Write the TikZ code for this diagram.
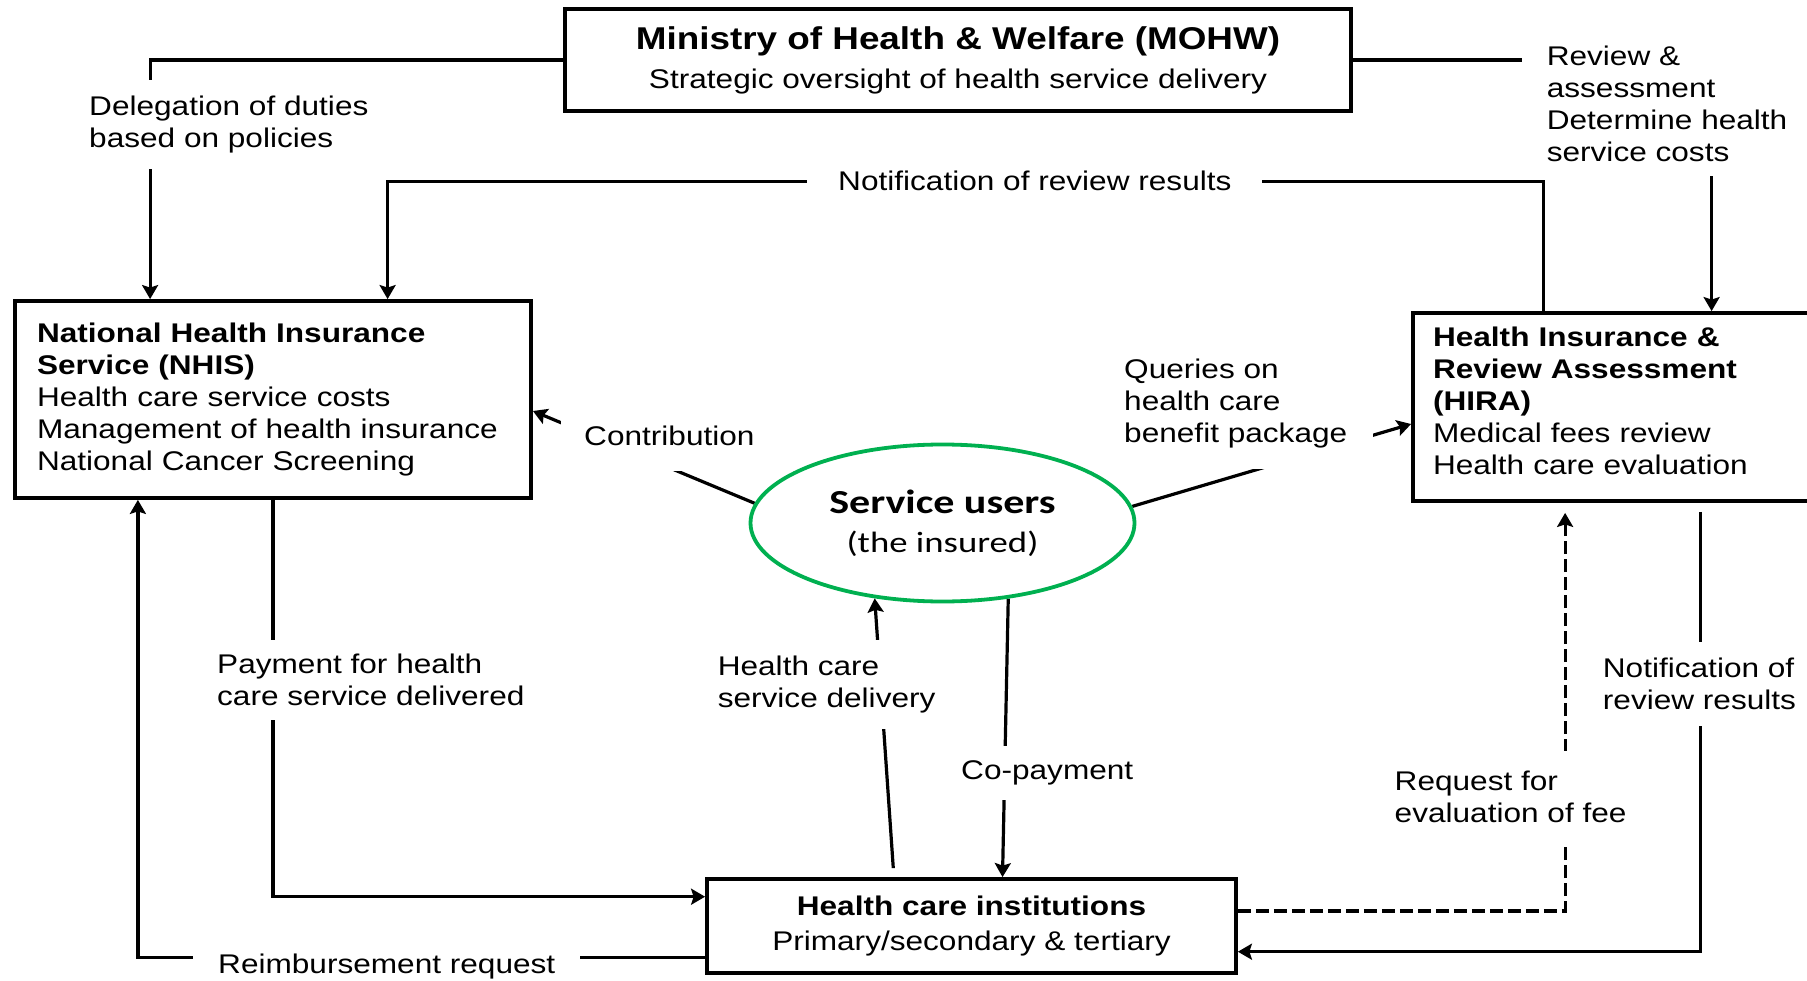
\documentclass[tikz,border=0pt]{standalone}
\usepackage{fontspec}
\setmainfont{Liberation Sans}[FakeStretch=1.17]
\newfontfamily\userfont{Carlito}[FakeStretch=1.25]
\usetikzlibrary{arrows.meta, shapes.geometric}
\definecolor{usergreen}{RGB}{0,176,80}
\pgfdeclarelayer{background}
\pgfsetlayers{background,main}

\begin{document}
\begin{tikzpicture}[
            x = 1pt, y = -1pt, % pixel grid, y runs downwards
            > = {Stealth[length=14pt, width=16pt, inset=2.5pt]}, % arrow head style
            font = \fontsize{27}{32}\selectfont,
            flow/.style = {line width=3.2pt, ->}, % connector style
            box/.style = {draw=black, line width=3.8pt, rectangle, inner sep=0pt},
            lbl/.style = {fill=white, align=left, anchor=north west,
                inner xsep=10pt, inner ysep=16pt}
        ]

        \useasboundingbox (0,0) rectangle (1807,981);

        % labels on the connectors
        \node[lbl] (dlg) at (79,79.7) {Delegation of duties\\based on policies};
        \node[lbl, inner xsep=25pt, inner ysep=14pt] (rev) at (1521.6,31.7) {Review \&\\assessment\\Determine health\\service costs};
        \node[lbl, inner xsep=31pt, inner ysep=8pt] (ntop) at (807,162.7) {Notification of review results};
        \node[lbl, inner xsep=23pt, inner ysep=25pt] (con) at (561,400.7) {Contribution};
        \node[lbl, inner xsep=26pt, inner ysep=21pt] (qry) at (1098,337.7) {Queries on\\health care\\benefit package};
        \node[lbl] (hcd) at (707.6,639.7) {Health care\\service delivery};
        \node[lbl, inner ysep=14pt] (pay) at (207,639.7) {Payment for health\\care service delivered};
        \node[lbl, inner ysep=15pt] (cop) at (951,745.7) {Co-payment};
        \node[lbl, inner ysep=20pt] (req) at (1384.5,750.7) {Request for\\evaluation of fee};
        \node[lbl] (nrt) at (1592.7,641.7) {Notification of\\review results};
        \node[lbl, inner xsep=25pt, inner ysep=6pt] (rmb) at (193,947.7) {Reimbursement request};

        % organisations
        \node[box, minimum width=786pt, minimum height=102pt, align=center,
            font=\fontsize{27}{39}\selectfont] (mohw) at (958,60)
            {{\fontsize{31.5}{39}\selectfont\bfseries Ministry of Health \& Welfare (MOHW)}\\Strategic oversight of health service delivery};
        \node[box, minimum width=516pt, minimum height=197pt, text width=472pt, align=left] (nhis) at (273,399.5)
            {\textbf{National Health Insurance}\\\textbf{Service (NHIS)}\\Health care service costs\\Management of health insurance\\National Cancer Screening};
        \node[box, minimum width=397pt, minimum height=188pt, text width=357pt, align=left] (hira) at (1611.5,407)
            {\textbf{Health Insurance \&}\\\textbf{Review Assessment}\\\textbf{(HIRA)}\\Medical fees review\\Health care evaluation\rule[-12pt]{0pt}{12pt}};
        \node[box, minimum width=529pt, minimum height=94pt, align=center,
            font=\fontsize{27}{34.4}\selectfont] (hci) at (971.5,926)
            {\textbf{Health care institutions}\\Primary/secondary \& tertiary};
        \node[ellipse, draw=usergreen, line width=3.8pt, inner sep=0pt, minimum width=384pt, minimum height=157pt,
            align=center, font=\userfont\fontsize{29.4}{38.7}\selectfont] (users) at (942.5,523)
            {{\fontsize{33.6}{38.7}\selectfont\bfseries Service users}\\(the insured)};

        % connectors
        \begin{pgfonlayer}{background}
            \draw[flow] (mohw.west) -| ([xshift=137pt]nhis.north west);
            \draw[flow] (mohw.east) -| ([xshift=300.5pt]hira.north west);
            \draw[flow] ([xshift=132pt]hira.north west) -- ++(0,-129.3) -| ([xshift=374.5pt]nhis.north west);
            \draw[flow] (users.174) -- ([yshift=-11.5pt]nhis.east);
            \draw[flow] (users.5) -- ([yshift=-17pt]hira.west);
            \draw[flow, shorten <=9pt] ([xshift=188.8pt]hci.north west) -- (users.228);
            \draw[flow] (users.311) -- ([xshift=297.4pt]hci.north west);
            \draw[flow] (nhis.south) |- ([yshift=29.3pt]hci.west);
            \draw[flow] ([yshift=-31.3pt]hci.west) -| ([xshift=124.8pt]nhis.south west);
            \draw[flow, dash pattern=on 13pt off 5pt, shorten >=10pt] ([yshift=15pt]hci.east) -| ([xshift=154pt]hira.south west);
            \draw[flow, shorten <=9pt] ([xshift=289pt]hira.south west) |- ([yshift=-25.7pt]hci.east);
        \end{pgfonlayer}

  \end{tikzpicture}
\end{document}
